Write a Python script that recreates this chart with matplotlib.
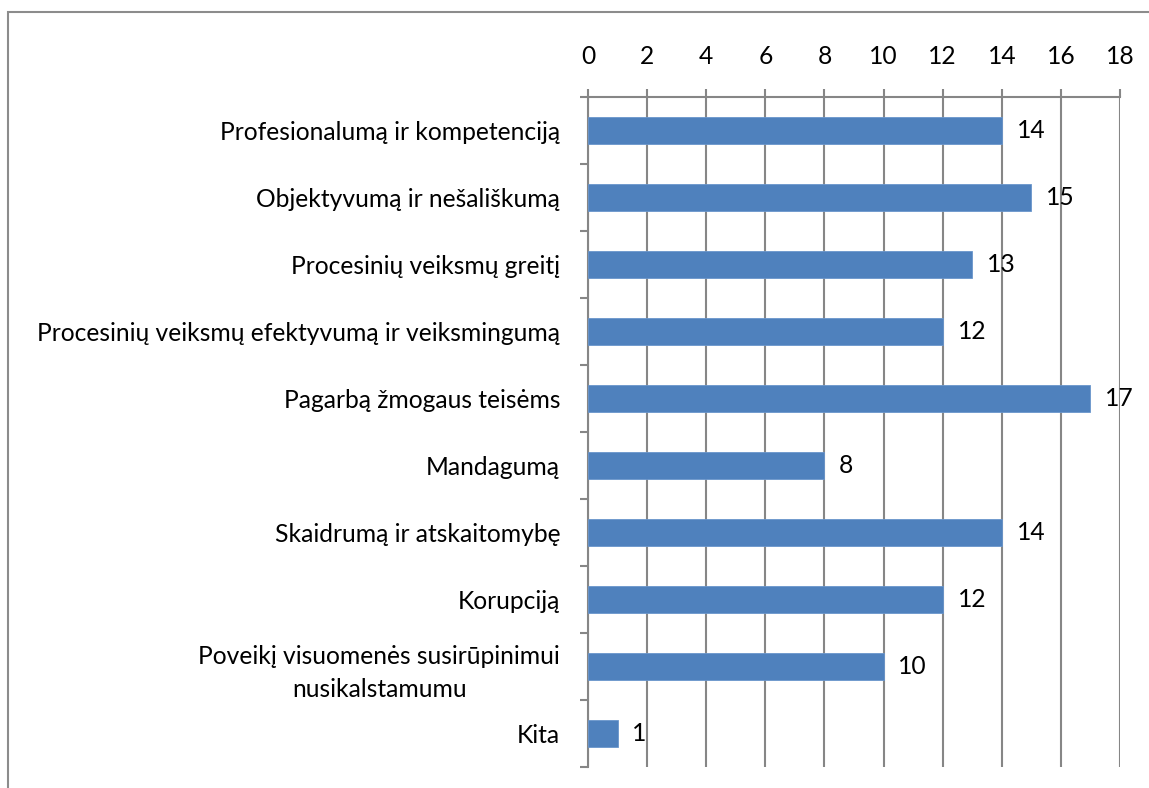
import numpy as np
import matplotlib
matplotlib.use("Agg")
import matplotlib.pyplot as plt
from matplotlib.patches import Rectangle

# ── Daten ────────────────────────────────────────────────────────────────────
categories = [
    "Profesionalumą ir kompetenciją",
    "Objektyvumą ir nešališkumą",
    "Procesinių veiksmų greitį",
    "Procesinių veiksmų efektyvumą ir veiksmingumą",
    "Pagarbą žmogaus teisėms",
    "Mandagumą",
    "Skaidrumą ir atskaitomybę",
    "Korupciją",
    "Poveikį visuomenės susirūpinimui\nnusikalstamumu",
    "Kita",
]
values = [14, 15, 13, 12, 17, 8, 14, 12, 10, 1]
xticks = list(range(0, 19, 2))

plt.rcParams["font.family"] = ["Lato", "DejaVu Sans"]
fs = 17.7
grid_c = "#868686"
bar_c = "#4F81BD"

fig = plt.figure(figsize=(11.49, 7.88), dpi=100)
ax = fig.add_axes([588 / 1149, 1 - 767 / 788, 532 / 1149, 670 / 788])

y = np.arange(len(categories))
ax.barh(y, values, height=0.4, color=bar_c, edgecolor="#6A96CC", lw=0.6, zorder=3)
for yi, v in zip(y, values):
    ax.text(v + 0.5, yi, str(v), va="center", ha="left", fontsize=fs, zorder=4)

ax.set_xlim(0, 18)
ax.set_ylim(len(categories) - 0.5, -0.5)
ax.set_xticks(xticks)
ax.xaxis.tick_top()
ax.tick_params(axis="x", direction="out", length=6, width=1.5, color=grid_c,
               labelsize=fs, pad=15)
ax.grid(axis="x", color=grid_c, lw=1.5, zorder=0)

ax.set_yticks(y)
ax.set_yticklabels(categories, fontsize=fs)
for lab in ax.get_yticklabels():
    lab.set_multialignment("center")
    lab.set_linespacing(1.5)
ax.set_yticks(np.arange(-0.5, len(categories)), minor=True)
ax.tick_params(axis="y", which="major", length=0, pad=20)
ax.tick_params(axis="y", which="minor", direction="out", length=6, width=1.5, color=grid_c)

for s in ["bottom", "right"]:
    ax.spines[s].set_visible(False)
for s in ["top", "left"]:
    ax.spines[s].set_color(grid_c)
    ax.spines[s].set_linewidth(1.5)

# Rahmen
fig.patches.append(Rectangle((8 / 1149, -0.1), 1.2, 1.1 - 12 / 788,
                             transform=fig.transFigure, fill=False,
                             edgecolor="#8C8C8C", lw=1.5))

fig.savefig("out.png", dpi=100)
